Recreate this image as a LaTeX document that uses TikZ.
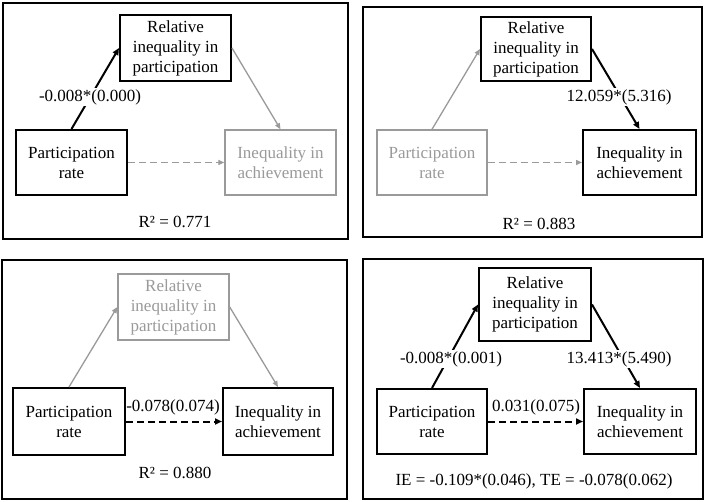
\documentclass[tikz,border=0pt]{standalone}
\usepackage{fontspec}
\setmainfont{Liberation Serif}
\usetikzlibrary{arrows.meta}
\definecolor{fade}{HTML}{9A9A9A}
\tikzset{
  every node/.style={font=\fontsize{17}{20}\selectfont},
  frame/.style={draw=black, line width=1.6pt},
  blk/.style={draw=black, line width=2pt, align=center, inner sep=0pt, text=black},
  gry/.style={draw=fade, line width=1.4pt, align=center, inner sep=0pt, text=fade},
  ablk/.style={draw=black, line width=2pt, -{Triangle[length=7pt,width=6pt]}},
  agry/.style={draw=fade, line width=1.3pt, -{Triangle[length=6pt,width=5pt]}},
  dblk/.style={ablk, dash pattern=on 7pt off 4pt},
  dgry/.style={agry, dash pattern=on 7pt off 4pt},
  lbl/.style={fill=white, inner sep=1pt}
}
\begin{document}
\begin{tikzpicture}[x=1pt,y=-1pt]
\useasboundingbox (0,0) rectangle (708,502);
\fill[white] (0,0) rectangle (708,502);
% ---------- Panel 1
\draw[frame] (3,3) rectangle (348,239);
\node[blk, minimum width=111pt, minimum height=66pt] (m1) at (175.5,48) {Relative\\inequality in\\participation};
\node[blk, minimum width=111pt, minimum height=65pt] (x1) at (71.5,162.5) {Participation\\rate};
\node[gry, minimum width=111pt, minimum height=65pt] (y1) at (280.5,162.5) {Inequality in\\achievement};
\draw[ablk] (x1.north) -- (m1.west);
\node[lbl] (l1) at (90,97) {-0.008*(0.000)};
\draw[agry] (m1.east) -- (y1.north);
\draw[dgry] (x1.east) -- (y1.west);
\node (r1) at (175,222) {R² = 0.771};
% ---------- Panel 2
\draw[frame] (363,7) rectangle (702,237);
\node[blk, minimum width=110pt, minimum height=64pt] (m2) at (536,49) {Relative\\inequality in\\participation};
\node[gry, minimum width=110pt, minimum height=65pt] (x2) at (432,162.5) {Participation\\rate};
\node[blk, minimum width=113pt, minimum height=65pt] (y2) at (639.5,162.5) {Inequality in\\achievement};
\draw[agry] (x2.north) -- (m2.west);
\draw[ablk] (m2.east) -- (y2.north);
\node[lbl] (l2) at (619,97) {12.059*(5.316)};
\draw[dgry] (x2.east) -- (y2.west);
\node (r2) at (539,224) {R² = 0.883};
% ---------- Panel 3
\draw[frame] (2,260) rectangle (347,499);
\node[gry, minimum width=111pt, minimum height=66pt] (m3) at (173.5,307) {Relative\\inequality in\\participation};
\node[blk, minimum width=112pt, minimum height=67pt] (x3) at (69,421.5) {Participation\\rate};
\node[blk, minimum width=110pt, minimum height=67pt] (y3) at (278,421.5) {Inequality in\\achievement};
\draw[agry] (x3.north) -- (m3.west);
\draw[agry] (m3.east) -- (y3.north);
\draw[dblk] (x3.east) -- (y3.west);
\node (l3) at (173,407) {-0.078(0.074)};
\node (r3) at (175,473) {R² = 0.880};
% ---------- Panel 4
\draw[frame] (363,259) rectangle (703,499);
\node[blk, minimum width=112pt, minimum height=73pt] (m4) at (535,304.5) {Relative\\inequality in\\participation};
\node[blk, minimum width=110pt, minimum height=65pt] (x4) at (432,421.5) {Participation\\rate};
\node[blk, minimum width=112pt, minimum height=65pt] (y4) at (640,421.5) {Inequality in\\achievement};
\draw[ablk] (x4.north) -- (m4.west);
\node[lbl] (l4a) at (451,359) {-0.008*(0.001)};
\draw[ablk] (m4.east) -- (y4.north);
\node[lbl] (l4b) at (619,359) {13.413*(5.490)};
\draw[dblk] (x4.east) -- (y4.west);
\node (l4c) at (536,407) {0.031(0.075)};
\node (r4) at (534,481) {IE = -0.109*(0.046), TE = -0.078(0.062)};
\end{tikzpicture}
\end{document}
